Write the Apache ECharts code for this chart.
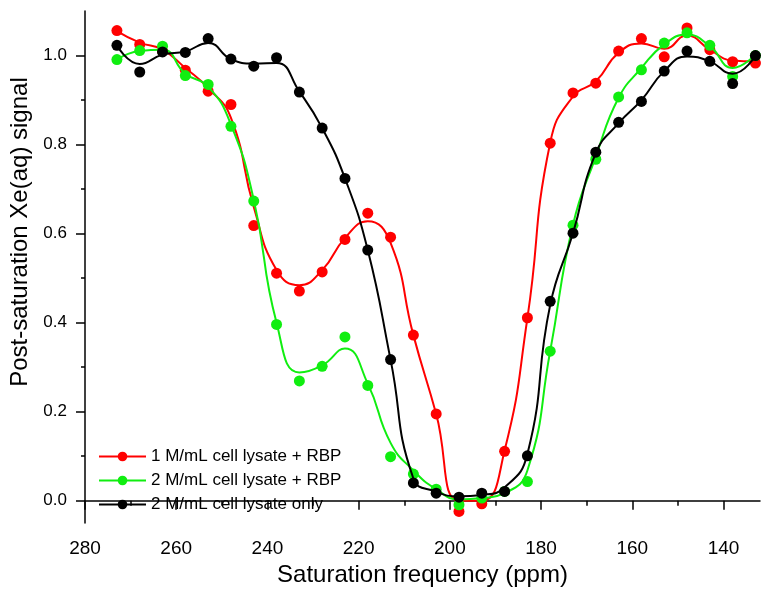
<!DOCTYPE html>
<html>
<head>
<meta charset="utf-8">
<script src="https://cdn.jsdelivr.net/npm/echarts@6/dist/echarts.min.js"></script>
<style>html,body{margin:0;padding:0;background:#fff}#c{width:762px;height:599px}</style>
</head>
<body>
<div id="c"></div>
<script>
const ppm = [273,268,263,258,253,248,243,238,233,228,223,218,213,208,203,198,193,188,183,178,173,168,163,158,153,148,143,138,133];
const seriesNames = ['1 M/mL cell lysate + RBP','2 M/mL cell lysate + RBP','2 M/mL cell lysate only'];
const redPts = [1.056,1.025,1.010,0.967,0.920,0.890,0.618,0.511,0.471,0.514,0.587,0.646,0.592,0.372,0.195,-0.024,-0.007,0.111,0.411,0.803,0.916,0.938,1.010,1.038,0.997,1.062,1.013,0.986,0.983];
const greenPts = [0.991,1.011,1.021,0.955,0.935,0.841,0.673,0.396,0.269,0.302,0.368,0.259,0.099,0.060,0.026,-0.009,0.006,0.021,0.043,0.336,0.619,0.767,0.907,0.968,1.028,1.051,1.023,0.953,1.000];
const blackPts = [1.023,0.963,1.008,1.007,1.038,0.992,0.976,0.995,0.918,0.837,0.724,0.563,0.317,0.040,0.017,0.008,0.017,0.021,0.101,0.448,0.601,0.783,0.850,0.897,0.965,1.010,0.987,0.937,1.000];
const redFit = [1.055,1.029,1.013,0.972,0.927,0.860,0.660,0.518,0.484,0.518,0.590,0.628,0.579,0.372,0.195,0.000,0.000,0.113,0.410,0.804,0.908,0.942,1.006,1.027,1.015,1.045,1.013,0.989,0.987];
const greenFit = [0.991,1.010,1.013,0.959,0.930,0.845,0.676,0.400,0.288,0.304,0.342,0.263,0.130,0.068,0.026,0.003,0.006,0.017,0.068,0.336,0.620,0.773,0.905,0.972,1.025,1.047,1.021,0.972,1.002];
const blackFit = [1.023,0.981,1.002,1.009,1.028,0.992,0.982,0.983,0.919,0.837,0.724,0.563,0.317,0.050,0.020,0.010,0.013,0.030,0.105,0.440,0.601,0.781,0.848,0.900,0.965,0.998,0.987,0.959,1.000];
const xMajor = [280,260,240,220,200,180,160,140];
const xMinor = [270,250,230,210,190,170,150];
const yMajor = [0,0.2,0.4,0.6,0.8,1.0];
const yMinor = [0.1,0.3,0.5,0.7,0.9];

const colors = ['#ff0000','#10ee10','#000000'];
const fits = [redFit, greenFit, blackFit];
const pts = [redPts, greenPts, blackPts];
const font = 'Liberation Sans, Arial, sans-serif';

const series = [];
for (let i = 0; i < 3; i++) {
  series.push({
    name: seriesNames[i], type: 'line', smooth: 0.5, symbol: 'circle', showSymbol: false,
    symbolSize: 10, data: ppm.map((p, j) => [p, fits[i][j]]),
    lineStyle: {color: colors[i], width: 2}, itemStyle: {color: colors[i]},
    z: 2 + i * 2, silent: true
  });
  series.push({
    name: seriesNames[i] + ' pts', type: 'scatter', symbol: 'circle', symbolSize: 11,
    data: ppm.map((p, j) => [p, pts[i][j]]),
    itemStyle: {color: colors[i], opacity: 1}, z: 3 + i * 2, silent: true
  });
}

const chart = echarts.init(document.getElementById('c'));
chart.setOption({
  animation: false,
  backgroundColor: '#ffffff',
  grid: {left: 85, right: 2, top: 11, bottom: 76, containLabel: false, outerBoundsMode: 'none'},
  legend: {
    data: seriesNames, orient: 'vertical', left: 93, top: 443, itemGap: 7,
    itemWidth: 47, itemHeight: 12,
    textStyle: {fontFamily: font, fontSize: 17, color: '#000'}
  },
  xAxis: [{
    type: 'value', min: 132, max: 280, inverse: true,
    name: 'Saturation frequency (ppm)', nameLocation: 'middle', nameGap: 39,
    nameTextStyle: {fontFamily: font, fontSize: 24, color: '#000'},
    axisLine: {show: true, lineStyle: {color: '#000', width: 1.5}},
    axisTick: {show: true, length: 9, customValues: xMajor, lineStyle: {color: '#000', width: 1.5}},
    axisLabel: {customValues: xMajor, margin: 16, fontFamily: font, fontSize: 19, color: '#000'},
    splitLine: {show: false}
  }, {
    type: 'value', min: 132, max: 280, inverse: true, position: 'bottom',
    axisLine: {show: false},
    axisTick: {show: true, length: 5, customValues: xMinor, lineStyle: {color: '#000', width: 1.5}},
    axisLabel: {show: false}, splitLine: {show: false}
  }],
  yAxis: [{
    type: 'value', min: -0.05, max: 1.1,
    name: 'Post-saturation Xe(aq) signal', nameLocation: 'middle', nameGap: 48, nameRotate: 90,
    nameTextStyle: {fontFamily: font, fontSize: 24, color: '#000', padding: [0, 0, 0, 70]},
    axisLine: {show: true, lineStyle: {color: '#000', width: 1.5}},
    axisTick: {show: true, length: 9, customValues: yMajor, lineStyle: {color: '#000', width: 1.5}},
    axisLabel: {customValues: yMajor, margin: 18, fontFamily: font, fontSize: 17, color: '#000',
      formatter: v => v.toFixed(1)},
    splitLine: {show: false}
  }, {
    type: 'value', min: -0.05, max: 1.1, position: 'left',
    axisLine: {show: false},
    axisTick: {show: true, length: 4, customValues: yMinor, lineStyle: {color: '#000', width: 1.5}},
    axisLabel: {show: false}, splitLine: {show: false}
  }],
  series: series
});
</script>
</body>
</html>
